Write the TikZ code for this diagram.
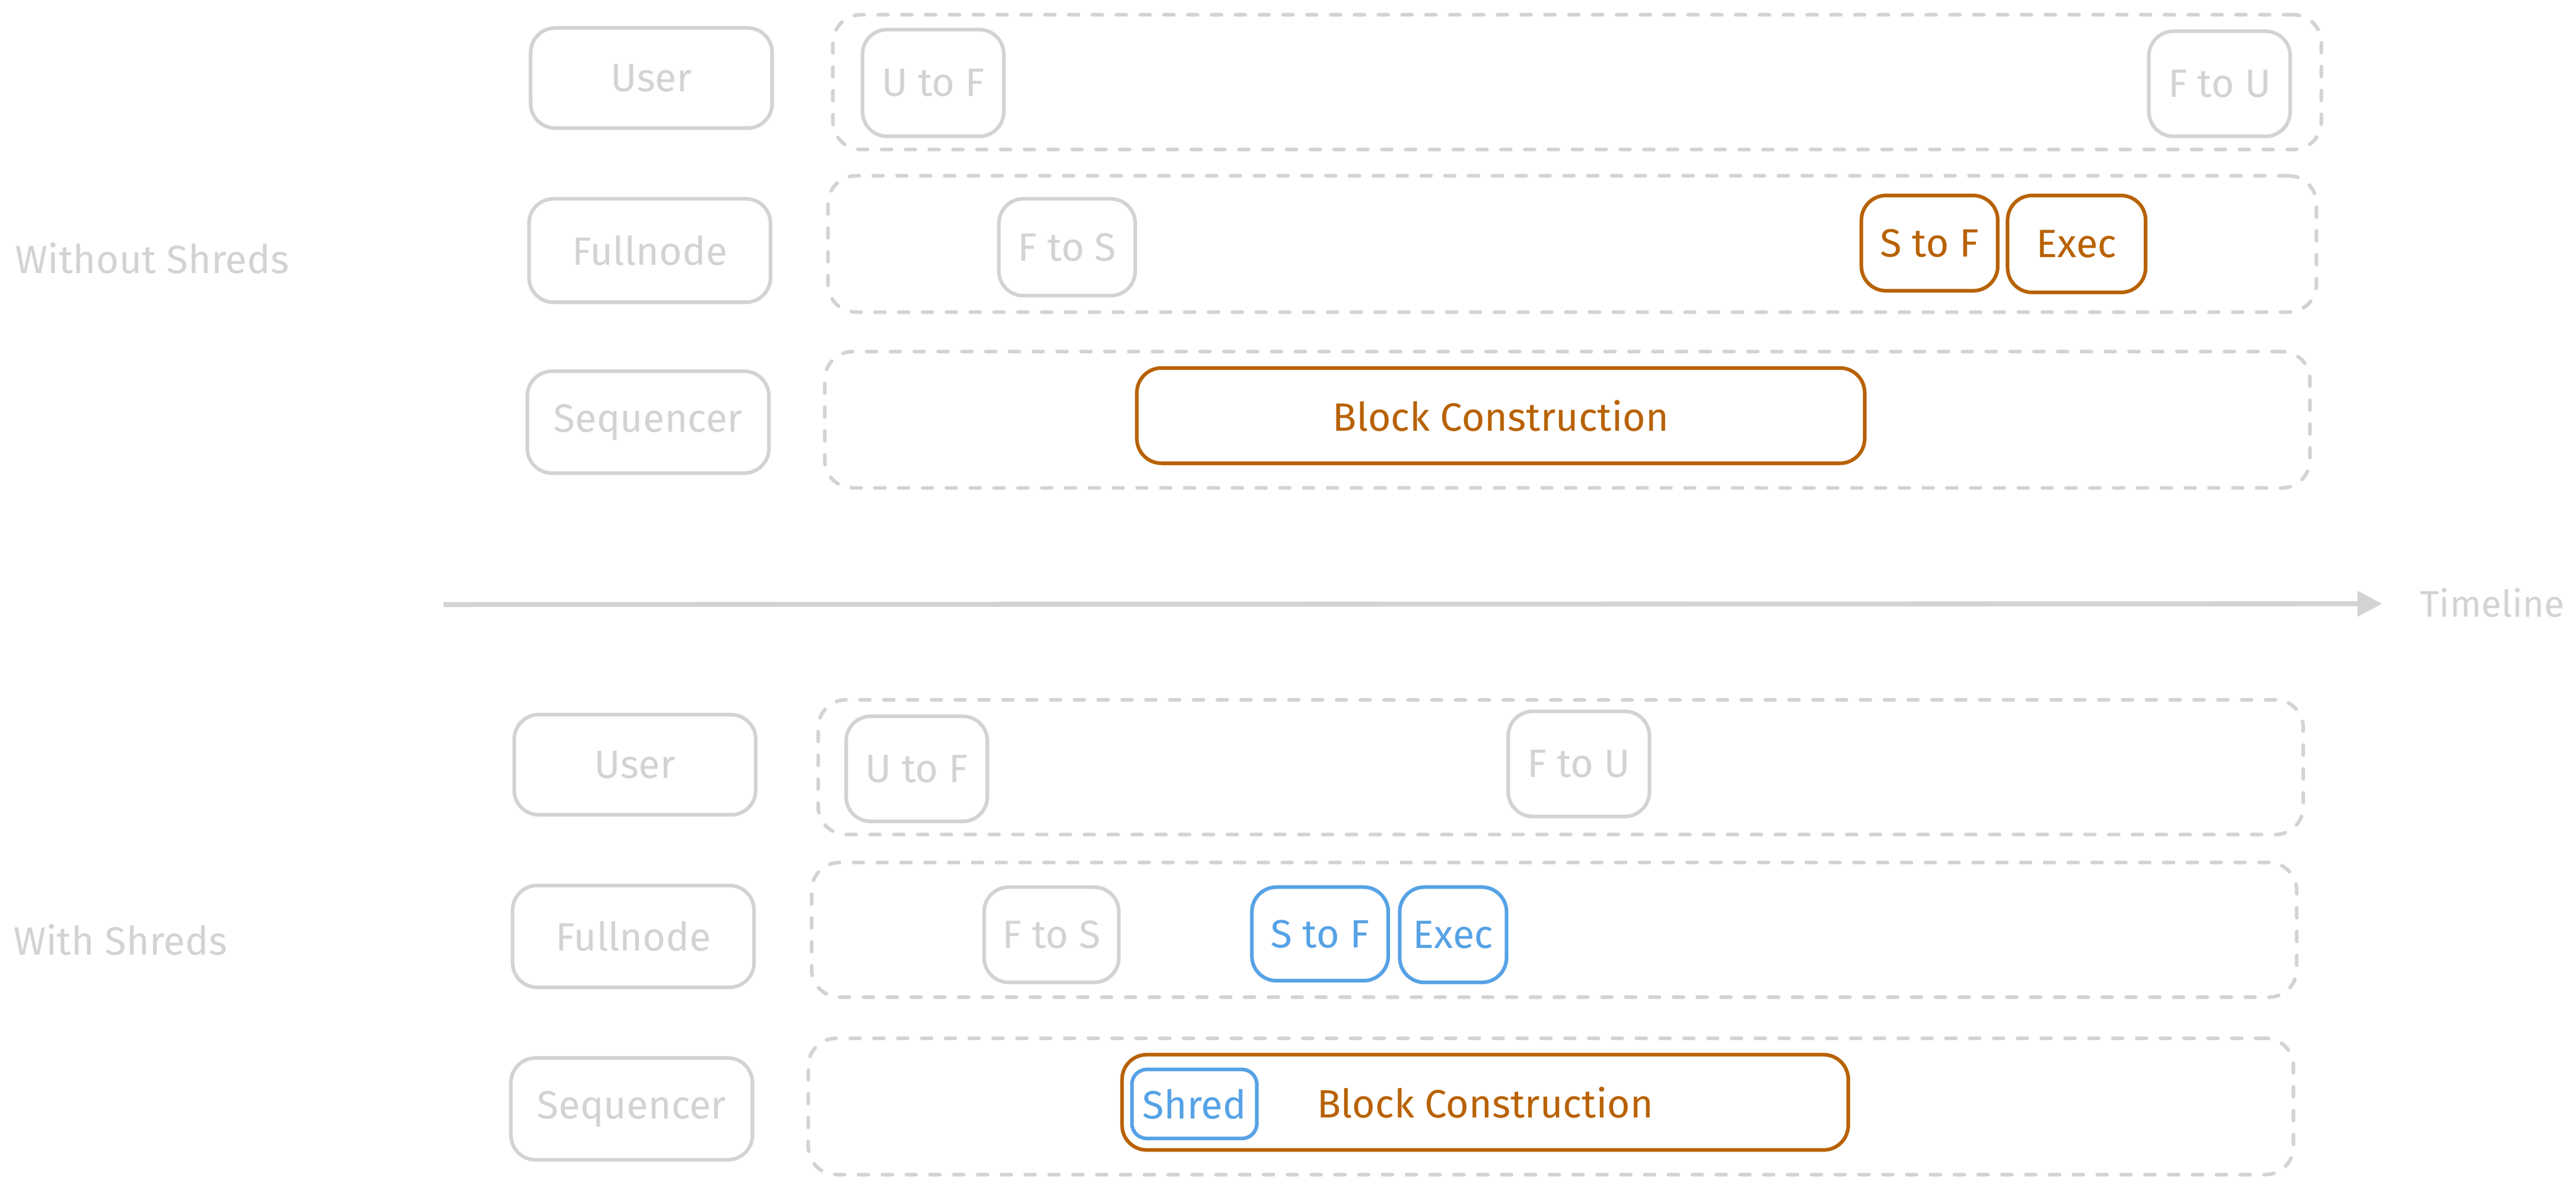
\documentclass[tikz,border=0pt]{standalone}
\usepackage{fontspec}
\setmainfont{Fira Sans}
\usetikzlibrary{arrows.meta}
\definecolor{sgray}{HTML}{D3D3D3}
\definecolor{sorange}{HTML}{B86200}
\definecolor{sblue}{HTML}{56A2E6}
\tikzset{
  base/.style={rectangle, rounded corners=15pt, line width=2.2pt, inner sep=0pt, font=\fontsize{24}{28}\selectfont, fill=white},
  graybox/.style={base, draw=sgray, text=sgray},
  orangebox/.style={base, draw=sorange, text=sorange},
  bluebox/.style={base, draw=sblue, text=sblue},
  lane/.style={rectangle, rounded corners=17pt, draw=sgray, line width=2.2pt, dash pattern=on 6pt off 8.5pt, line cap=round, inner sep=0pt},
  sidelabel/.style={anchor=west, text=sgray, inner sep=0pt, font=\fontsize{24}{28}\selectfont},
  sz/.style n args={2}{minimum width=#1pt, minimum height=#2pt}
}
\begin{document}
\begin{tikzpicture}[x=1pt,y=-1pt]
\useasboundingbox[fill=white] (0,0) rectangle (1568,723);

% ---------- Without Shreds ----------
\node[sidelabel] (wo) at (9,157) {Without Shreds};
\node[lane, sz={906}{82}] (laneU1) at (960,50) {};
\node[lane, sz={906}{83}] (laneF1) at (957,148.5) {};
\node[lane, sz={904}{83}] (laneS1) at (954,255.5) {};

\node[graybox, sz={147}{61}] (user1) at (396.5,47.5) {User};
\node[graybox, sz={147}{63}] (full1) at (395.5,152.5) {Fullnode};
\node[graybox, sz={147}{62}] (seq1) at (394.5,257) {Sequencer};

\node[graybox, sz={86}{65}] (utof1) at (568,50.5) {U to F};
\node[graybox, sz={86}{64}] (ftou1) at (1351,51) {F to U};
\node[graybox, sz={83}{59}] (ftos1) at (649.5,150.5) {F to S};
\node[orangebox, sz={83}{58}] (stof1) at (1174.5,148) {S to F};
\node[orangebox, sz={84}{59}] (exec1) at (1264,148.5) {Exec};
\node[orangebox, sz={443}{58}] (block1) at (913.5,253) {Block Construction};

% ---------- Timeline ----------
\coordinate (tlA) at (270,368);
\coordinate (tlB) at (1450,367.5);
\draw[sgray, line width=3pt, -{Triangle[length=15pt,width=15pt]}] (tlA) -- (tlB);
\node[sidelabel, font=\fontsize{22.5}{26}\selectfont] (tl) at (1473,367) {Timeline};

% ---------- With Shreds ----------
\node[sidelabel] (wi) at (8,572) {With Shreds};
\node[lane, sz={904}{82}] (laneU2) at (950,467) {};
\node[lane, sz={904}{82}] (laneF2) at (946,566) {};
\node[lane, sz={904}{83}] (laneS2) at (944,673.5) {};

\node[graybox, sz={147}{61}] (user2) at (386.5,465.5) {User};
\node[graybox, sz={147}{62}] (full2) at (385.5,570) {Fullnode};
\node[graybox, sz={147}{62}] (seq2) at (384.5,675) {Sequencer};

\node[graybox, sz={86}{64}] (utof2) at (558,468) {U to F};
\node[graybox, sz={86}{64}] (ftou2) at (961,465) {F to U};
\node[graybox, sz={82}{58}] (ftos2) at (640,569) {F to S};
\node[bluebox, sz={83}{57}] (stof2) at (803.5,568.5) {S to F};
\node[bluebox, sz={65}{58}] (exec2) at (884.5,569) {Exec};
\node[orangebox, sz={442}{58}] (block2) at (904,671) {Block Construction};
\node[bluebox, rounded corners=9pt, sz={76}{42}] (shred) at (727,672) {Shred};
\end{tikzpicture}
\end{document}
